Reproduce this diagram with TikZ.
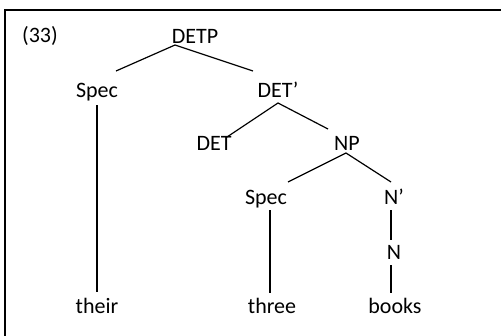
\documentclass[tikz,border=0pt]{standalone}
\usepackage{fontspec}
\setmainfont{Carlito}
\usetikzlibrary{calc}
\begin{document}
\begin{tikzpicture}[x=1pt,y=-1pt,
  lbl/.style={anchor=base,inner sep=0pt,font=\fontsize{22}{26}\selectfont},
  branch/.style={line width=1.2pt,black},
  frame/.style={line width=1.6pt,black}]
\useasboundingbox (0,0) rectangle (501,335);
\fill[white] (0,0) rectangle (501,335);
\draw[frame] (5,340) -- (5,10) -- (510,10);
\node[lbl] (num) at (40,42) {(33)};
\node[lbl] (detp) at (195,43) {DETP};
\node[lbl] (spec1) at (97,97) {Spec};
\node[lbl] (detbar) at (278,97) {DET’};
\node[lbl] (det) at (214,150) {DET};
\node[lbl] (np) at (347,150) {NP};
\node[lbl] (spec2) at (266,204) {Spec};
\node[lbl] (nbar) at (394,204) {N’};
\node[lbl] (n) at (394,259) {N};
\node[lbl] (their) at (97,313) {their};
\node[lbl] (three) at (272,313) {three};
\node[lbl] (books) at (395,313) {books};
\draw[branch] ($(spec1.base)+(19,-26)$) -- ($(detp.base)+(-20,2)$) -- ($(detbar.base)+(-25,-26)$);
\draw[branch] ($(spec1.base)+(0,8)$) -- ($(their.base)+(0,-21)$);
\draw[branch] ($(det.base)+(13,-13)$) -- ($(detbar.base)+(0,6)$) -- ($(np.base)+(-19,-21)$);
\draw[branch] ($(spec2.base)+(22,-22)$) -- ($(np.base)+(-1,3)$) -- ($(nbar.base)+(-3,-22)$);
\draw[branch] ($(spec2.base)+(4,6)$) -- ($(three.base)+(-2,-20)$);
\draw[branch] ($(nbar.base)+(-3,6)$) -- ($(n.base)+(-3,-19)$);
\draw[branch] ($(n.base)+(-3,6)$) -- ($(books.base)+(-4,-20)$);
\end{tikzpicture}
\end{document}
